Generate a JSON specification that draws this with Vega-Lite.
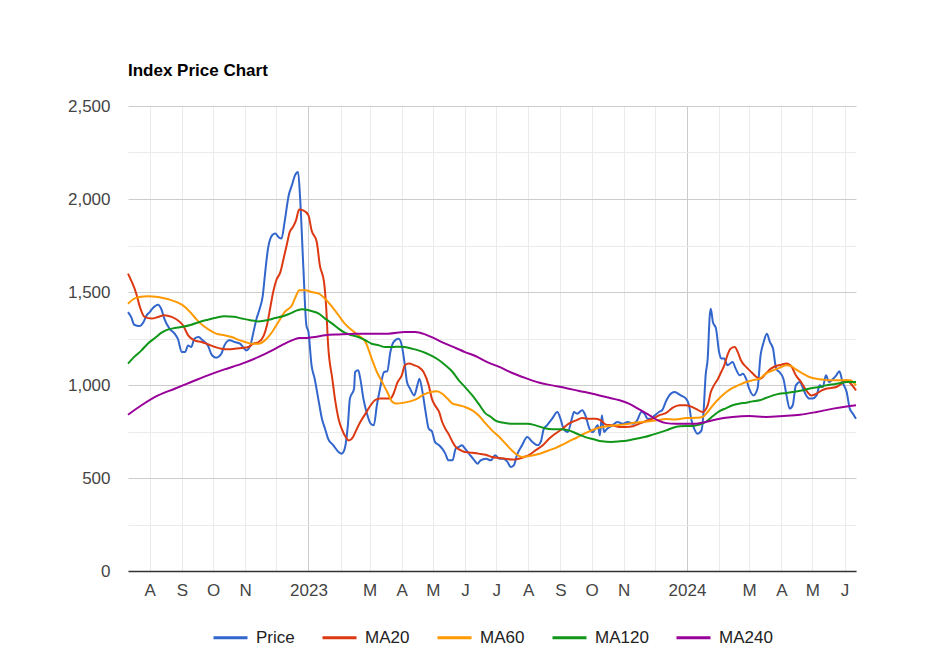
{
  "$schema": "https://vega.github.io/schema/vega-lite/v6.json",
  "width": 728,
  "height": 465,
  "padding": {"left": 67, "top": 61, "right": 10, "bottom": 5},
  "background": "white",
  "title": {"text": "Index Price Chart", "anchor": "start", "frame": "group", "font": "Liberation Sans", "fontSize": 17, "fontWeight": "bold", "color": "#000000", "baseline": "alphabetic", "offset": 4.5},
  "datasets": {
    "price": [
      {"date":"2022-07-11","value":1392},{"date":"2022-07-14","value":1366},{"date":"2022-07-17","value":1324},{"date":"2022-07-22","value":1317},{"date":"2022-07-26","value":1339},{"date":"2022-07-29","value":1375},{"date":"2022-08-01","value":1392},{"date":"2022-08-04","value":1414},{"date":"2022-08-09","value":1432},{"date":"2022-08-12","value":1410},{"date":"2022-08-15","value":1357},{"date":"2022-08-20","value":1303},{"date":"2022-08-25","value":1276},{"date":"2022-08-28","value":1249},{"date":"2022-09-01","value":1177},{"date":"2022-09-04","value":1177},{"date":"2022-09-07","value":1213},{"date":"2022-09-10","value":1204},{"date":"2022-09-13","value":1249},{"date":"2022-09-17","value":1258},{"date":"2022-09-21","value":1240},{"date":"2022-09-26","value":1213},{"date":"2022-09-30","value":1160},{"date":"2022-10-04","value":1147},{"date":"2022-10-09","value":1168},{"date":"2022-10-12","value":1213},{"date":"2022-10-17","value":1240},{"date":"2022-10-22","value":1231},{"date":"2022-10-27","value":1222},{"date":"2022-10-30","value":1204},{"date":"2022-11-02","value":1186},{"date":"2022-11-06","value":1213},{"date":"2022-11-09","value":1285},{"date":"2022-11-12","value":1357},{"date":"2022-11-15","value":1410},{"date":"2022-11-18","value":1482},{"date":"2022-11-20","value":1590},{"date":"2022-11-23","value":1733},{"date":"2022-11-27","value":1805},{"date":"2022-11-30","value":1814},{"date":"2022-12-03","value":1796},{"date":"2022-12-06","value":1787},{"date":"2022-12-09","value":1876},{"date":"2022-12-13","value":2020},{"date":"2022-12-16","value":2073},{"date":"2022-12-19","value":2127},{"date":"2022-12-22","value":2145},{"date":"2022-12-24","value":2002},{"date":"2022-12-27","value":1643},{"date":"2022-12-30","value":1321},
      {"date":"2023-01-01","value":1285},{"date":"2023-01-04","value":1106},{"date":"2023-01-07","value":1034},{"date":"2023-01-11","value":909},{"date":"2023-01-14","value":819},{"date":"2023-01-17","value":765},{"date":"2023-01-20","value":711},{"date":"2023-01-25","value":676},{"date":"2023-01-30","value":640},{"date":"2023-02-02","value":631},{"date":"2023-02-05","value":658},{"date":"2023-02-08","value":783},{"date":"2023-02-10","value":927},{"date":"2023-02-14","value":980},{"date":"2023-02-15","value":1070},{"date":"2023-02-18","value":1079},{"date":"2023-02-20","value":1034},{"date":"2023-02-23","value":927},{"date":"2023-02-26","value":855},{"date":"2023-03-02","value":792},{"date":"2023-03-05","value":783},{"date":"2023-03-08","value":891},{"date":"2023-03-11","value":980},{"date":"2023-03-15","value":1070},{"date":"2023-03-18","value":1074},{"date":"2023-03-21","value":1177},{"date":"2023-03-24","value":1231},{"date":"2023-03-29","value":1249},{"date":"2023-04-01","value":1213},{"date":"2023-04-04","value":1106},{"date":"2023-04-06","value":1016},{"date":"2023-04-09","value":980},{"date":"2023-04-13","value":944},{"date":"2023-04-16","value":998},{"date":"2023-04-18","value":1034},{"date":"2023-04-21","value":962},{"date":"2023-04-24","value":855},{"date":"2023-04-27","value":765},{"date":"2023-04-30","value":751},{"date":"2023-05-03","value":694},{"date":"2023-05-07","value":676},{"date":"2023-05-10","value":658},{"date":"2023-05-13","value":631},{"date":"2023-05-16","value":595},{"date":"2023-05-20","value":595},{"date":"2023-05-23","value":658},{"date":"2023-05-26","value":667},{"date":"2023-05-29","value":676},{"date":"2023-06-01","value":658},{"date":"2023-06-06","value":622},{"date":"2023-06-10","value":595},{"date":"2023-06-13","value":577},{"date":"2023-06-16","value":595},{"date":"2023-06-21","value":604},{"date":"2023-06-26","value":595},{"date":"2023-06-30","value":622},{"date":"2023-07-04","value":604},{"date":"2023-07-08","value":604},{"date":"2023-07-12","value":586},{"date":"2023-07-15","value":559},{"date":"2023-07-18","value":568},{"date":"2023-07-21","value":622},{"date":"2023-07-26","value":676},{"date":"2023-07-31","value":720},{"date":"2023-08-05","value":694},{"date":"2023-08-10","value":676},{"date":"2023-08-13","value":694},{"date":"2023-08-16","value":765},{"date":"2023-08-19","value":783},{"date":"2023-08-24","value":819},{"date":"2023-08-29","value":855},{"date":"2023-09-01","value":819},{"date":"2023-09-04","value":765},{"date":"2023-09-08","value":747},{"date":"2023-09-12","value":819},{"date":"2023-09-14","value":855},{"date":"2023-09-17","value":846},{"date":"2023-09-22","value":864},{"date":"2023-09-25","value":837},{"date":"2023-09-29","value":765},{"date":"2023-10-02","value":747},{"date":"2023-10-07","value":783},{"date":"2023-10-09","value":729},{"date":"2023-10-11","value":837},{"date":"2023-10-13","value":747},{"date":"2023-10-16","value":765},{"date":"2023-10-21","value":783},{"date":"2023-10-26","value":801},{"date":"2023-10-31","value":792},{"date":"2023-11-05","value":801},{"date":"2023-11-10","value":792},{"date":"2023-11-14","value":810},{"date":"2023-11-18","value":855},{"date":"2023-11-21","value":846},{"date":"2023-11-24","value":819},{"date":"2023-11-27","value":819},{"date":"2023-12-01","value":837},{"date":"2023-12-05","value":855},{"date":"2023-12-08","value":864},{"date":"2023-12-12","value":915},{"date":"2023-12-15","value":944},{"date":"2023-12-20","value":962},{"date":"2023-12-26","value":944},{"date":"2023-12-31","value":927},
      {"date":"2024-01-03","value":891},{"date":"2024-01-05","value":819},{"date":"2024-01-08","value":765},{"date":"2024-01-11","value":738},{"date":"2024-01-15","value":756},{"date":"2024-01-17","value":855},{"date":"2024-01-19","value":1052},{"date":"2024-01-21","value":1142},{"date":"2024-01-23","value":1375},{"date":"2024-01-24","value":1410},{"date":"2024-01-26","value":1339},{"date":"2024-01-29","value":1303},{"date":"2024-02-01","value":1177},{"date":"2024-02-03","value":1142},{"date":"2024-02-06","value":1142},{"date":"2024-02-09","value":1106},{"date":"2024-02-14","value":1124},{"date":"2024-02-17","value":1088},{"date":"2024-02-21","value":1052},{"date":"2024-02-24","value":1061},{"date":"2024-02-27","value":1034},{"date":"2024-03-01","value":980},{"date":"2024-03-05","value":944},{"date":"2024-03-09","value":980},{"date":"2024-03-12","value":1160},{"date":"2024-03-15","value":1231},{"date":"2024-03-18","value":1276},{"date":"2024-03-21","value":1231},{"date":"2024-03-24","value":1195},{"date":"2024-03-27","value":1088},{"date":"2024-03-30","value":1070},{"date":"2024-04-03","value":1034},{"date":"2024-04-06","value":944},{"date":"2024-04-09","value":873},{"date":"2024-04-12","value":891},{"date":"2024-04-15","value":998},{"date":"2024-04-19","value":1016},{"date":"2024-04-22","value":980},{"date":"2024-04-25","value":944},{"date":"2024-04-28","value":927},{"date":"2024-05-01","value":927},{"date":"2024-05-05","value":944},{"date":"2024-05-08","value":998},{"date":"2024-05-11","value":989},{"date":"2024-05-14","value":1052},{"date":"2024-05-17","value":1016},{"date":"2024-05-21","value":1034},{"date":"2024-05-24","value":1052},{"date":"2024-05-27","value":1074},{"date":"2024-05-30","value":1016},{"date":"2024-06-03","value":962},{"date":"2024-06-06","value":873},{"date":"2024-06-09","value":846},{"date":"2024-06-12","value":819}
    ],
    "ma20": [
      {"date":"2022-07-11","value":1599},{"date":"2022-07-14","value":1563},{"date":"2022-07-19","value":1491},{"date":"2022-07-22","value":1428},{"date":"2022-07-27","value":1366},{"date":"2022-08-03","value":1357},{"date":"2022-08-09","value":1366},{"date":"2022-08-15","value":1375},{"date":"2022-08-22","value":1366},{"date":"2022-08-28","value":1348},{"date":"2022-09-02","value":1321},{"date":"2022-09-07","value":1267},{"date":"2022-09-13","value":1240},{"date":"2022-09-20","value":1231},{"date":"2022-09-26","value":1219},{"date":"2022-10-03","value":1204},{"date":"2022-10-09","value":1195},{"date":"2022-10-16","value":1192},{"date":"2022-10-22","value":1195},{"date":"2022-10-29","value":1199},{"date":"2022-11-04","value":1204},{"date":"2022-11-09","value":1222},{"date":"2022-11-14","value":1231},{"date":"2022-11-19","value":1267},{"date":"2022-11-22","value":1321},{"date":"2022-11-25","value":1410},{"date":"2022-11-28","value":1500},{"date":"2022-12-01","value":1563},{"date":"2022-12-05","value":1608},{"date":"2022-12-08","value":1679},{"date":"2022-12-11","value":1751},{"date":"2022-12-14","value":1823},{"date":"2022-12-17","value":1849},{"date":"2022-12-20","value":1885},{"date":"2022-12-23","value":1943},{"date":"2022-12-27","value":1939},
      {"date":"2023-01-01","value":1912},{"date":"2023-01-04","value":1832},{"date":"2023-01-09","value":1769},{"date":"2023-01-12","value":1643},{"date":"2023-01-16","value":1554},{"date":"2023-01-18","value":1428},{"date":"2023-01-20","value":1213},{"date":"2023-01-24","value":1034},{"date":"2023-01-27","value":909},{"date":"2023-01-30","value":819},{"date":"2023-02-02","value":765},{"date":"2023-02-06","value":720},{"date":"2023-02-09","value":702},{"date":"2023-02-13","value":720},{"date":"2023-02-16","value":756},{"date":"2023-02-20","value":801},{"date":"2023-02-25","value":846},{"date":"2023-03-02","value":891},{"date":"2023-03-06","value":918},{"date":"2023-03-11","value":927},{"date":"2023-03-16","value":927},{"date":"2023-03-21","value":927},{"date":"2023-03-24","value":953},{"date":"2023-03-28","value":1016},{"date":"2023-04-01","value":1052},{"date":"2023-04-04","value":1106},{"date":"2023-04-08","value":1115},{"date":"2023-04-13","value":1106},{"date":"2023-04-17","value":1097},{"date":"2023-04-22","value":1070},{"date":"2023-04-27","value":998},{"date":"2023-04-30","value":927},{"date":"2023-05-03","value":891},{"date":"2023-05-07","value":855},{"date":"2023-05-10","value":801},{"date":"2023-05-13","value":765},{"date":"2023-05-16","value":738},{"date":"2023-05-20","value":694},{"date":"2023-05-23","value":667},{"date":"2023-05-28","value":649},{"date":"2023-06-01","value":640},{"date":"2023-06-08","value":636},{"date":"2023-06-14","value":631},{"date":"2023-06-21","value":625},{"date":"2023-06-27","value":613},{"date":"2023-07-04","value":608},{"date":"2023-07-10","value":604},{"date":"2023-07-16","value":599},{"date":"2023-07-23","value":604},{"date":"2023-07-28","value":613},{"date":"2023-08-02","value":625},{"date":"2023-08-08","value":649},{"date":"2023-08-15","value":676},{"date":"2023-08-21","value":711},{"date":"2023-08-27","value":738},{"date":"2023-09-03","value":765},{"date":"2023-09-09","value":792},{"date":"2023-09-16","value":810},{"date":"2023-09-22","value":822},{"date":"2023-09-29","value":819},{"date":"2023-10-05","value":819},{"date":"2023-10-10","value":810},{"date":"2023-10-15","value":787},{"date":"2023-10-21","value":783},{"date":"2023-10-28","value":774},{"date":"2023-11-03","value":774},{"date":"2023-11-10","value":778},{"date":"2023-11-16","value":792},{"date":"2023-11-22","value":805},{"date":"2023-11-29","value":819},{"date":"2023-12-05","value":837},{"date":"2023-12-12","value":850},{"date":"2023-12-18","value":877},{"date":"2023-12-25","value":891},{"date":"2023-12-31","value":891},
      {"date":"2024-01-06","value":882},{"date":"2024-01-11","value":868},{"date":"2024-01-16","value":855},{"date":"2024-01-21","value":891},{"date":"2024-01-24","value":962},{"date":"2024-01-27","value":998},{"date":"2024-01-31","value":1034},{"date":"2024-02-03","value":1070},{"date":"2024-02-06","value":1106},{"date":"2024-02-09","value":1160},{"date":"2024-02-12","value":1195},{"date":"2024-02-16","value":1204},{"date":"2024-02-19","value":1177},{"date":"2024-02-22","value":1133},{"date":"2024-02-27","value":1097},{"date":"2024-03-03","value":1070},{"date":"2024-03-08","value":1043},{"date":"2024-03-12","value":1034},{"date":"2024-03-17","value":1061},{"date":"2024-03-22","value":1088},{"date":"2024-03-27","value":1102},{"date":"2024-04-01","value":1109},{"date":"2024-04-06","value":1115},{"date":"2024-04-11","value":1097},{"date":"2024-04-15","value":1052},{"date":"2024-04-20","value":1016},{"date":"2024-04-25","value":971},{"date":"2024-04-30","value":944},{"date":"2024-05-05","value":953},{"date":"2024-05-10","value":971},{"date":"2024-05-14","value":980},{"date":"2024-05-19","value":984},{"date":"2024-05-24","value":989},{"date":"2024-05-29","value":1007},{"date":"2024-06-03","value":1025},{"date":"2024-06-07","value":1007},{"date":"2024-06-12","value":971}
    ],
    "ma60": [
      {"date":"2022-07-11","value":1437},{"date":"2022-07-16","value":1461},{"date":"2022-07-22","value":1473},{"date":"2022-07-30","value":1477},{"date":"2022-08-09","value":1473},{"date":"2022-08-19","value":1461},{"date":"2022-08-27","value":1446},{"date":"2022-09-02","value":1428},{"date":"2022-09-09","value":1392},{"date":"2022-09-15","value":1353},{"date":"2022-09-21","value":1321},{"date":"2022-09-28","value":1294},{"date":"2022-10-04","value":1276},{"date":"2022-10-12","value":1267},{"date":"2022-10-19","value":1258},{"date":"2022-10-25","value":1244},{"date":"2022-11-01","value":1231},{"date":"2022-11-07","value":1222},{"date":"2022-11-14","value":1222},{"date":"2022-11-20","value":1240},{"date":"2022-11-27","value":1285},{"date":"2022-12-03","value":1339},{"date":"2022-12-09","value":1392},{"date":"2022-12-16","value":1428},{"date":"2022-12-21","value":1491},{"date":"2022-12-23","value":1509},{"date":"2022-12-29","value":1509},
      {"date":"2023-01-04","value":1500},{"date":"2023-01-11","value":1491},{"date":"2023-01-17","value":1464},{"date":"2023-01-24","value":1419},{"date":"2023-01-30","value":1375},{"date":"2023-02-05","value":1330},{"date":"2023-02-12","value":1294},{"date":"2023-02-18","value":1267},{"date":"2023-02-25","value":1231},{"date":"2023-03-03","value":1142},{"date":"2023-03-08","value":1070},{"date":"2023-03-13","value":1016},{"date":"2023-03-18","value":962},{"date":"2023-03-23","value":909},{"date":"2023-03-27","value":900},{"date":"2023-04-03","value":905},{"date":"2023-04-09","value":912},{"date":"2023-04-16","value":927},{"date":"2023-04-22","value":948},{"date":"2023-04-29","value":962},{"date":"2023-05-05","value":966},{"date":"2023-05-10","value":953},{"date":"2023-05-15","value":927},{"date":"2023-05-20","value":900},{"date":"2023-05-26","value":891},{"date":"2023-06-01","value":882},{"date":"2023-06-08","value":864},{"date":"2023-06-14","value":837},{"date":"2023-06-21","value":792},{"date":"2023-06-27","value":756},{"date":"2023-07-04","value":720},{"date":"2023-07-10","value":685},{"date":"2023-07-16","value":649},{"date":"2023-07-21","value":625},{"date":"2023-07-26","value":613},{"date":"2023-08-02","value":618},{"date":"2023-08-08","value":625},{"date":"2023-08-15","value":636},{"date":"2023-08-21","value":649},{"date":"2023-08-27","value":661},{"date":"2023-09-03","value":679},{"date":"2023-09-09","value":697},{"date":"2023-09-16","value":715},{"date":"2023-09-22","value":733},{"date":"2023-09-29","value":751},{"date":"2023-10-05","value":765},{"date":"2023-10-11","value":774},{"date":"2023-10-18","value":780},{"date":"2023-10-24","value":783},{"date":"2023-10-31","value":787},{"date":"2023-11-06","value":792},{"date":"2023-11-13","value":798},{"date":"2023-11-19","value":801},{"date":"2023-11-26","value":805},{"date":"2023-12-02","value":810},{"date":"2023-12-08","value":815},{"date":"2023-12-12","value":817},{"date":"2023-12-21","value":815},{"date":"2023-12-31","value":822},
      {"date":"2024-01-10","value":824},{"date":"2024-01-16","value":828},{"date":"2024-01-21","value":855},{"date":"2024-01-26","value":891},{"date":"2024-02-01","value":927},{"date":"2024-02-08","value":962},{"date":"2024-02-14","value":984},{"date":"2024-02-21","value":1002},{"date":"2024-02-27","value":1016},{"date":"2024-03-04","value":1025},{"date":"2024-03-11","value":1034},{"date":"2024-03-17","value":1061},{"date":"2024-03-24","value":1079},{"date":"2024-03-30","value":1092},{"date":"2024-04-06","value":1106},{"date":"2024-04-11","value":1100},{"date":"2024-04-15","value":1084},{"date":"2024-04-22","value":1061},{"date":"2024-04-28","value":1043},{"date":"2024-05-05","value":1034},{"date":"2024-05-11","value":1029},{"date":"2024-05-17","value":1025},{"date":"2024-05-24","value":1025},{"date":"2024-05-30","value":1025},{"date":"2024-06-06","value":1025},{"date":"2024-06-12","value":998}
    ],
    "ma120": [
      {"date":"2022-07-11","value":1115},{"date":"2022-07-17","value":1151},{"date":"2022-07-24","value":1186},{"date":"2022-07-30","value":1222},{"date":"2022-08-06","value":1253},{"date":"2022-08-12","value":1280},{"date":"2022-08-19","value":1299},{"date":"2022-08-25","value":1306},{"date":"2022-09-02","value":1313},{"date":"2022-09-10","value":1324},{"date":"2022-09-18","value":1339},{"date":"2022-09-26","value":1351},{"date":"2022-10-04","value":1362},{"date":"2022-10-12","value":1369},{"date":"2022-10-21","value":1367},{"date":"2022-10-29","value":1357},{"date":"2022-11-06","value":1348},{"date":"2022-11-14","value":1342},{"date":"2022-11-22","value":1348},{"date":"2022-11-30","value":1360},{"date":"2022-12-08","value":1371},{"date":"2022-12-14","value":1384},{"date":"2022-12-21","value":1401},{"date":"2022-12-26","value":1407},{"date":"2022-12-30","value":1405},
      {"date":"2023-01-04","value":1398},{"date":"2023-01-11","value":1384},{"date":"2023-01-17","value":1357},{"date":"2023-01-24","value":1330},{"date":"2023-01-30","value":1303},{"date":"2023-02-05","value":1281},{"date":"2023-02-12","value":1267},{"date":"2023-02-18","value":1258},{"date":"2023-02-25","value":1240},{"date":"2023-03-03","value":1222},{"date":"2023-03-10","value":1213},{"date":"2023-03-16","value":1204},{"date":"2023-03-23","value":1204},{"date":"2023-03-29","value":1206},{"date":"2023-04-04","value":1204},{"date":"2023-04-11","value":1195},{"date":"2023-04-17","value":1186},{"date":"2023-04-24","value":1172},{"date":"2023-04-30","value":1156},{"date":"2023-05-07","value":1133},{"date":"2023-05-13","value":1106},{"date":"2023-05-20","value":1070},{"date":"2023-05-26","value":1025},{"date":"2023-06-01","value":989},{"date":"2023-06-08","value":944},{"date":"2023-06-14","value":900},{"date":"2023-06-21","value":846},{"date":"2023-06-26","value":828},{"date":"2023-06-30","value":810},{"date":"2023-07-07","value":798},{"date":"2023-07-15","value":792},{"date":"2023-07-23","value":792},{"date":"2023-07-31","value":792},{"date":"2023-08-08","value":783},{"date":"2023-08-16","value":769},{"date":"2023-08-24","value":762},{"date":"2023-09-01","value":762},{"date":"2023-09-09","value":756},{"date":"2023-09-17","value":738},{"date":"2023-09-25","value":720},{"date":"2023-10-03","value":708},{"date":"2023-10-11","value":697},{"date":"2023-10-20","value":694},{"date":"2023-10-28","value":697},{"date":"2023-11-05","value":702},{"date":"2023-11-13","value":711},{"date":"2023-11-21","value":720},{"date":"2023-11-29","value":733},{"date":"2023-12-07","value":747},{"date":"2023-12-12","value":756},{"date":"2023-12-18","value":769},{"date":"2023-12-25","value":778},{"date":"2023-12-31","value":780},
      {"date":"2024-01-06","value":780},{"date":"2024-01-13","value":787},{"date":"2024-01-19","value":801},{"date":"2024-01-26","value":833},{"date":"2024-02-01","value":858},{"date":"2024-02-08","value":876},{"date":"2024-02-14","value":891},{"date":"2024-02-21","value":900},{"date":"2024-02-27","value":905},{"date":"2024-03-04","value":912},{"date":"2024-03-11","value":918},{"date":"2024-03-17","value":930},{"date":"2024-03-24","value":944},{"date":"2024-03-30","value":953},{"date":"2024-04-06","value":957},{"date":"2024-04-12","value":962},{"date":"2024-04-19","value":969},{"date":"2024-04-25","value":976},{"date":"2024-05-01","value":984},{"date":"2024-05-08","value":989},{"date":"2024-05-14","value":998},{"date":"2024-05-21","value":1004},{"date":"2024-05-27","value":1009},{"date":"2024-06-03","value":1016},{"date":"2024-06-12","value":1016}
    ],
    "ma240": [
      {"date":"2022-07-11","value":840},{"date":"2022-07-24","value":891},{"date":"2022-08-09","value":944},{"date":"2022-08-25","value":980},{"date":"2022-09-10","value":1016},{"date":"2022-09-26","value":1052},{"date":"2022-10-12","value":1084},{"date":"2022-10-29","value":1115},{"date":"2022-11-14","value":1151},{"date":"2022-11-27","value":1186},{"date":"2022-12-06","value":1213},{"date":"2022-12-16","value":1240},{"date":"2022-12-23","value":1253},{"date":"2022-12-30","value":1253},
      {"date":"2023-01-07","value":1258},{"date":"2023-01-17","value":1267},{"date":"2023-01-30","value":1272},{"date":"2023-02-15","value":1276},{"date":"2023-03-03","value":1276},{"date":"2023-03-19","value":1276},{"date":"2023-04-04","value":1285},{"date":"2023-04-14","value":1285},{"date":"2023-04-24","value":1271},{"date":"2023-05-03","value":1249},{"date":"2023-05-13","value":1222},{"date":"2023-05-23","value":1199},{"date":"2023-06-01","value":1177},{"date":"2023-06-11","value":1156},{"date":"2023-06-21","value":1127},{"date":"2023-07-04","value":1097},{"date":"2023-07-16","value":1066},{"date":"2023-07-29","value":1038},{"date":"2023-08-11","value":1013},{"date":"2023-08-24","value":998},{"date":"2023-09-06","value":984},{"date":"2023-09-19","value":968},{"date":"2023-10-02","value":953},{"date":"2023-10-15","value":935},{"date":"2023-10-28","value":918},{"date":"2023-11-06","value":900},{"date":"2023-11-16","value":869},{"date":"2023-11-26","value":837},{"date":"2023-12-04","value":810},{"date":"2023-12-12","value":795},{"date":"2023-12-21","value":792},{"date":"2023-12-31","value":792},
      {"date":"2024-01-10","value":792},{"date":"2024-01-19","value":801},{"date":"2024-01-29","value":815},{"date":"2024-02-14","value":828},{"date":"2024-03-01","value":833},{"date":"2024-03-17","value":828},{"date":"2024-04-03","value":833},{"date":"2024-04-19","value":840},{"date":"2024-05-05","value":855},{"date":"2024-05-21","value":873},{"date":"2024-06-06","value":887},{"date":"2024-06-12","value":891}
    ]
  },
  "encoding": {
    "x": {
      "field": "date", "type": "temporal", "title": null,
      "scale": {"type": "utc", "nice": false, "domain": [{"year": 2022, "month": 7, "date": 11, "utc": true}, {"year": 2024, "month": 6, "date": 12, "utc": true}]},
      "axis": {
        "values": [
          {"year": 2022, "month": 8, "date": 1, "utc": true}, {"year": 2022, "month": 9, "date": 1, "utc": true}, {"year": 2022, "month": 10, "date": 1, "utc": true}, {"year": 2022, "month": 11, "date": 1, "utc": true}, {"year": 2022, "month": 12, "date": 1, "utc": true},
          {"year": 2023, "month": 1, "date": 1, "utc": true}, {"year": 2023, "month": 2, "date": 1, "utc": true}, {"year": 2023, "month": 3, "date": 1, "utc": true}, {"year": 2023, "month": 4, "date": 1, "utc": true}, {"year": 2023, "month": 5, "date": 1, "utc": true}, {"year": 2023, "month": 6, "date": 1, "utc": true}, {"year": 2023, "month": 7, "date": 1, "utc": true}, {"year": 2023, "month": 8, "date": 1, "utc": true}, {"year": 2023, "month": 9, "date": 1, "utc": true}, {"year": 2023, "month": 10, "date": 1, "utc": true}, {"year": 2023, "month": 11, "date": 1, "utc": true}, {"year": 2023, "month": 12, "date": 1, "utc": true},
          {"year": 2024, "month": 1, "date": 1, "utc": true}, {"year": 2024, "month": 2, "date": 1, "utc": true}, {"year": 2024, "month": 3, "date": 1, "utc": true}, {"year": 2024, "month": 4, "date": 1, "utc": true}, {"year": 2024, "month": 5, "date": 1, "utc": true}, {"year": 2024, "month": 6, "date": 1, "utc": true}
        ],
        "labelExpr": "utcmonth(datum.value) == 0 ? utcFormat(datum.value, '%Y') : ((utcmonth(datum.value) == 1 || utcmonth(datum.value) == 11) ? '' : substring('JFMAMJJASOND', utcmonth(datum.value), utcmonth(datum.value) + 1))",
        "grid": true,
        "gridColor": {"condition": {"test": "utcmonth(datum.value) == 0", "value": "#cccccc"}, "value": "#ebebeb"},
        "gridWidth": 1,
        "ticks": false, "tickSize": 0,
        "domain": true, "domainColor": "#333333", "domainWidth": 1.5,
        "labelFont": "Liberation Sans", "labelFontSize": 17, "labelColor": "#444444",
        "labelPadding": 11, "labelAngle": 0, "labelOverlap": false, "labelFlush": false
      }
    },
    "y": {
      "field": "value", "type": "quantitative", "title": null,
      "scale": {"domain": [0, 2500], "nice": false, "zero": true},
      "axis": {
        "values": [0, 250, 500, 750, 1000, 1250, 1500, 1750, 2000, 2250, 2500],
        "labelExpr": "datum.value % 500 == 0 ? format(datum.value, ',') : ''",
        "grid": true,
        "gridColor": {"condition": {"test": "datum.value % 500 == 0", "value": "#cccccc"}, "value": "#ebebeb"},
        "gridWidth": 1,
        "domain": false, "ticks": false, "tickSize": 0,
        "labelFont": "Liberation Sans", "labelFontSize": 17, "labelColor": "#444444",
        "labelPadding": 18, "labelOverlap": false
      }
    }
  },
  "layer": [
    {"data": {"name": "price"}, "mark": {"type": "line", "strokeWidth": 2, "interpolate": "monotone"},
     "encoding": {"color": {"datum": "Price", "type": "nominal",
       "scale": {"domain": ["Price", "MA20", "MA60", "MA120", "MA240"], "range": ["#3366cc", "#dc3912", "#ff9900", "#109618", "#990099"]},
       "legend": {"title": null}}}},
    {"data": {"name": "ma20"}, "mark": {"type": "line", "strokeWidth": 2, "interpolate": "monotone"}, "encoding": {"color": {"datum": "MA20", "type": "nominal"}}},
    {"data": {"name": "ma60"}, "mark": {"type": "line", "strokeWidth": 2, "interpolate": "monotone"}, "encoding": {"color": {"datum": "MA60", "type": "nominal"}}},
    {"data": {"name": "ma120"}, "mark": {"type": "line", "strokeWidth": 2, "interpolate": "monotone"}, "encoding": {"color": {"datum": "MA120", "type": "nominal"}}},
    {"data": {"name": "ma240"}, "mark": {"type": "line", "strokeWidth": 2, "interpolate": "monotone"}, "encoding": {"color": {"datum": "MA240", "type": "nominal"}}}
  ],
  "config": {
    "font": "Liberation Sans",
    "view": {"stroke": null},
    "legend": {
      "orient": "bottom", "direction": "horizontal",
      "symbolType": "stroke", "symbolSize": 1156, "symbolStrokeWidth": 3,
      "labelFont": "Liberation Sans", "labelFontSize": 17, "labelColor": "#222222",
      "labelOffset": 7, "columnPadding": 21, "offset": 21,
      "layout": {"bottom": {"anchor": "middle"}}
    }
  }
}
